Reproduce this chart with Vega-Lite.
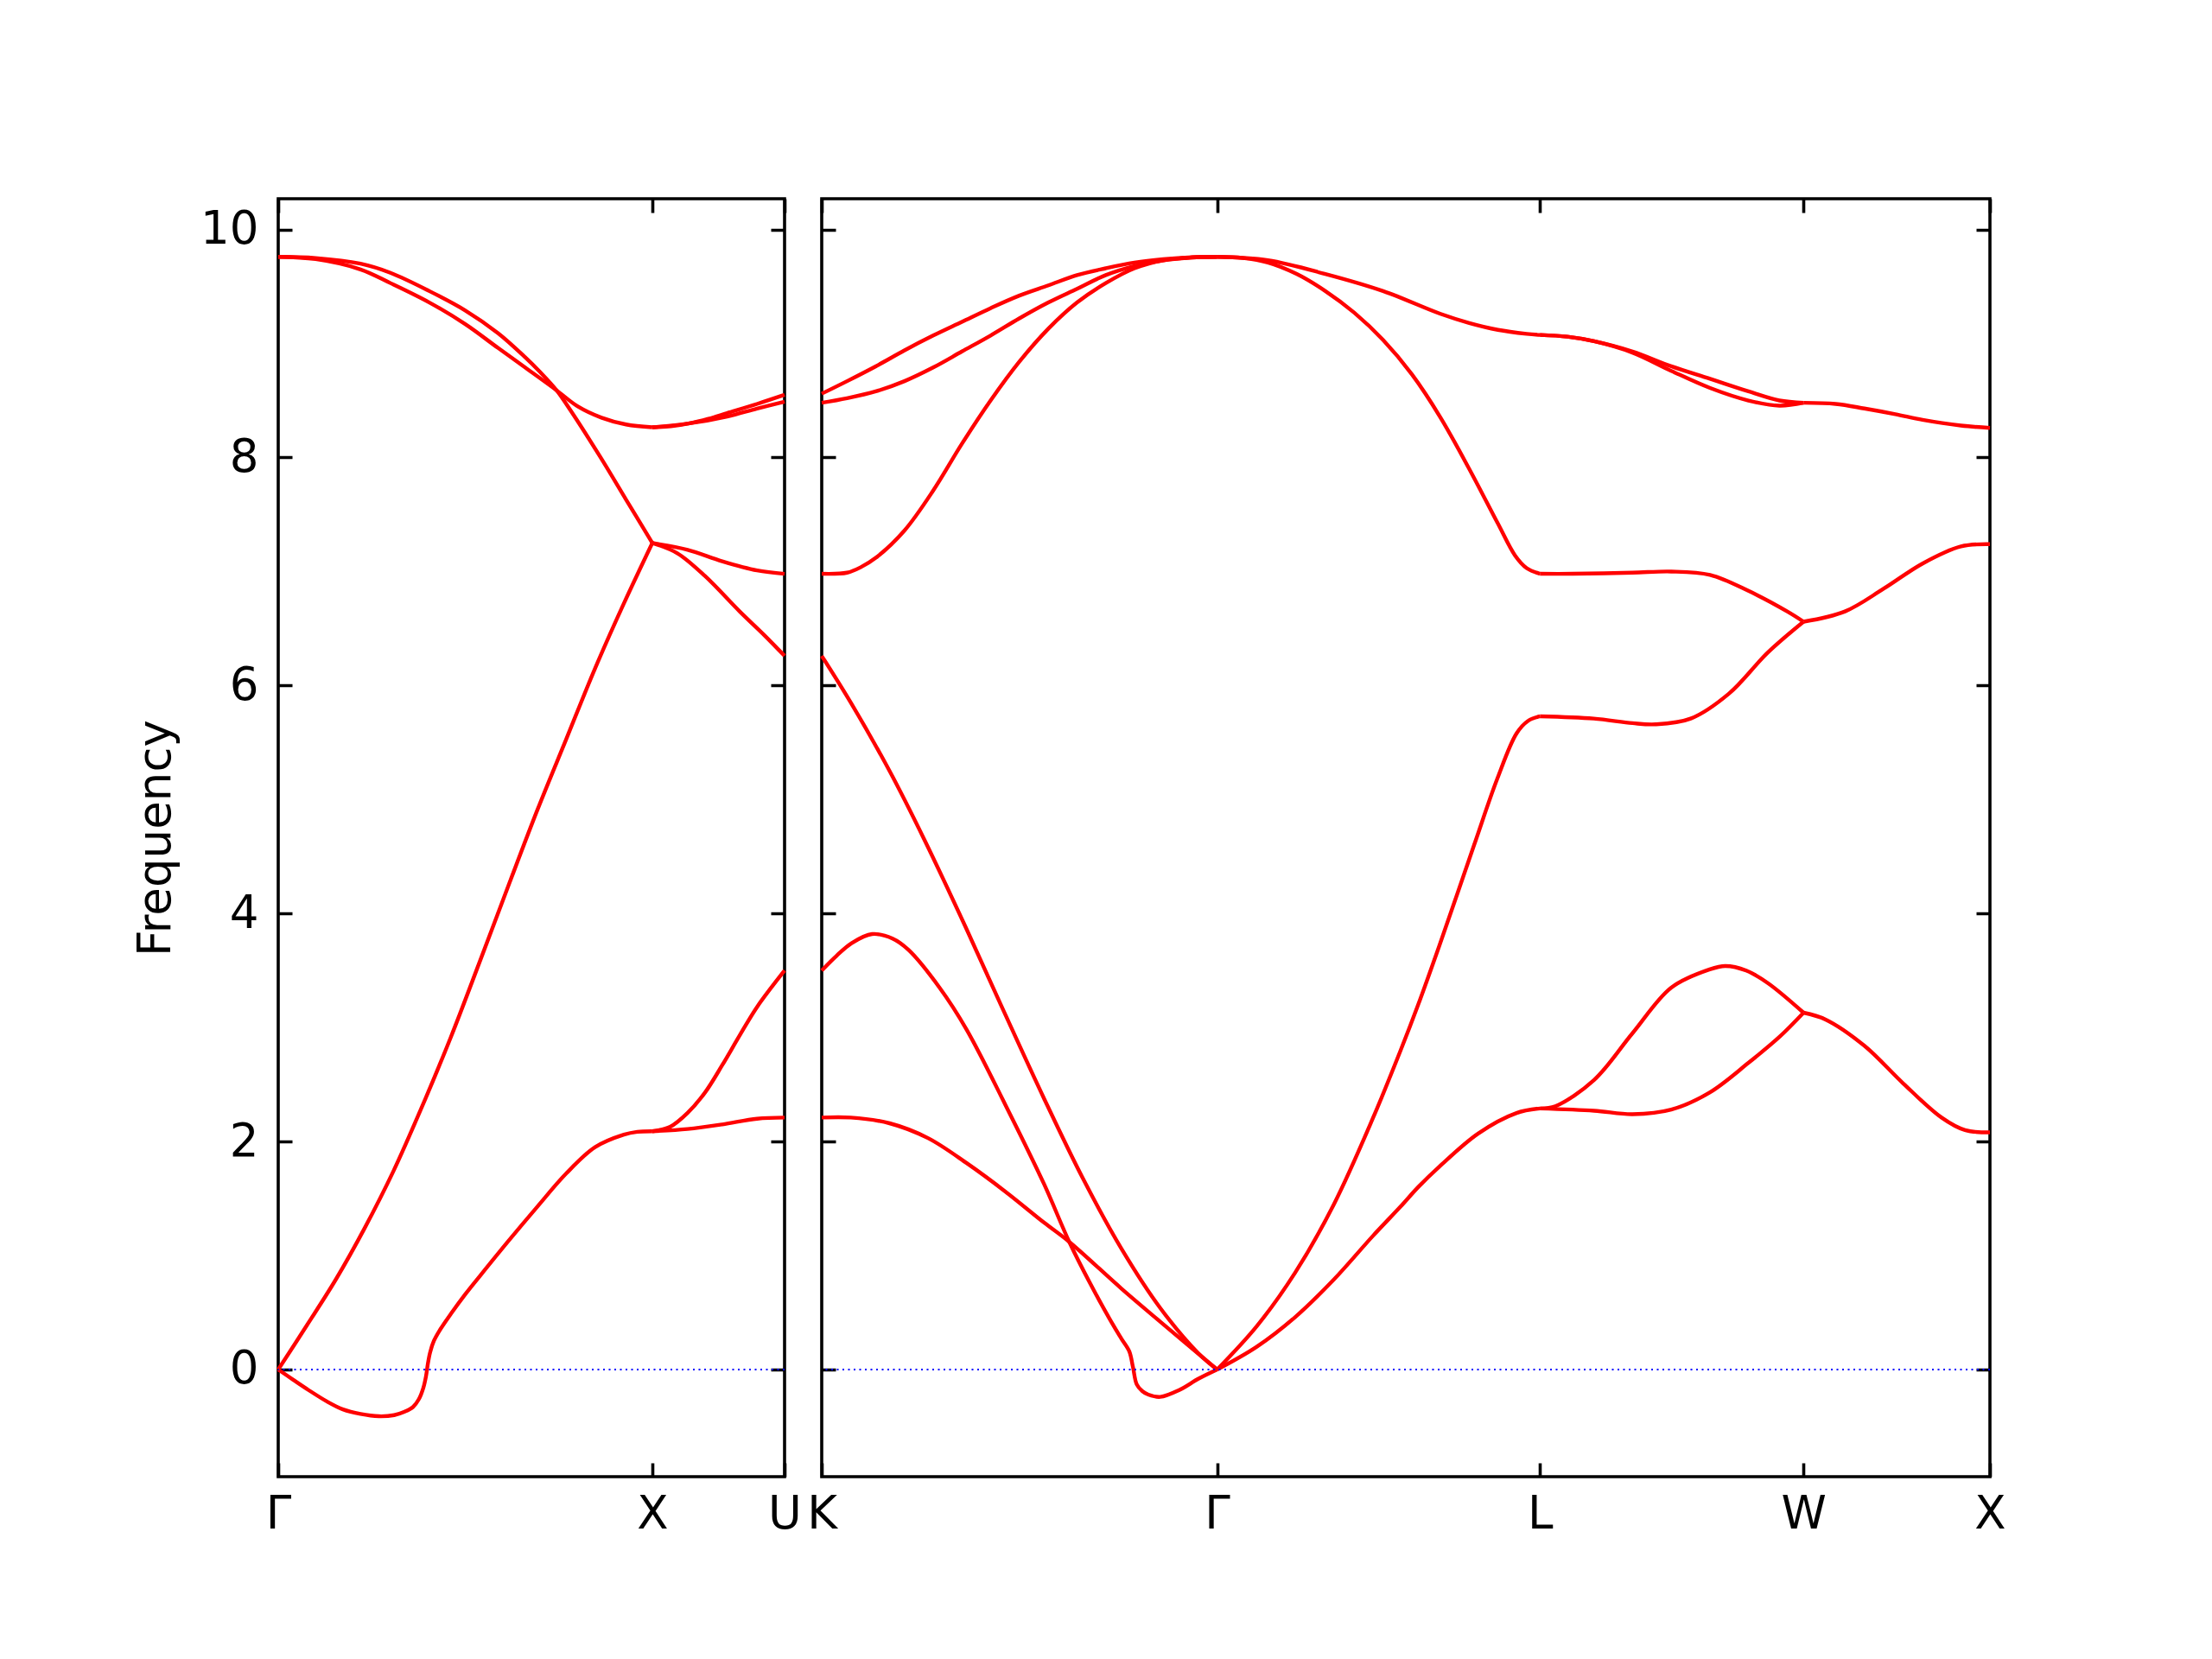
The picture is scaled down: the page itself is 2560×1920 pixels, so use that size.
{
  "$schema": "https://vega.github.io/schema/vega-lite/v6.json",
  "background": "white",
  "padding": {"left": 152, "top": 228, "right": 0, "bottom": 0},
  "config": {
    "view": {"stroke": "black", "strokeWidth": 3.6},
    "font": "DejaVu Sans",
    "axis": {
      "labelFont": "DejaVu Sans", "labelFontSize": 53, "labelColor": "black",
      "titleFont": "DejaVu Sans", "titleFontSize": 53, "titleFontWeight": "normal", "titleColor": "black",
      "domain": false, "ticks": false, "grid": true, "gridColor": "black", "gridWidth": 3.6, "gridOpacity": 1,
      "labelFlush": false, "labelOverlap": false
    }
  },
  "bounds": "flush",
  "spacing": 43,
  "hconcat": [
    {
      "width": 586, "height": 1479,
      "layer": [
        {
          "data": {"name": "left"},
          "mark": {"type": "line", "color": "#ff0000", "strokeWidth": 4.4, "interpolate": "catmull-rom"},
          "encoding": {
            "x": {"field": "k", "type": "quantitative", "scale": {"domain": [0, 1.3536], "nice": false, "zero": false},
                  "axis": {"values": [0, 1, 1.3536], "labelExpr": "datum.value < 0.5 ? 'Γ' : datum.value < 1.2 ? 'X' : 'U'", "title": null, "gridDash": [16, 1447, 16, 0], "labelPadding": 17}},
            "y": {"field": "f", "type": "quantitative", "scale": {"domain": [-0.94, 10.27], "nice": false, "zero": false},
                  "axis": {"values": [0, 2, 4, 6, 8, 10], "format": "d", "title": "Frequency", "gridDash": [16, 554, 16, 0], "labelPadding": 23, "titlePadding": 24}},
            "detail": {"field": "b", "type": "nominal"}
          }
        },
        {
          "data": {"values": [{"z": 0}]},
          "mark": {"type": "rule", "color": "#0000ff", "strokeWidth": 2, "strokeDash": [2, 4.5]},
          "encoding": {"y": {"field": "z", "type": "quantitative"}}
        }
      ]
    },
    {
      "width": 1352, "height": 1479,
      "layer": [
        {
          "data": {"name": "right"},
          "mark": {"type": "line", "color": "#ff0000", "strokeWidth": 4.4, "interpolate": "catmull-rom"},
          "encoding": {
            "x": {"field": "k", "type": "quantitative", "scale": {"domain": [0, 3.1338], "nice": false, "zero": false},
                  "axis": {"values": [0, 1.0607, 1.9267, 2.6338, 3.1338], "labelExpr": "datum.value < 0.5 ? 'K' : datum.value < 1.5 ? 'Γ' : datum.value < 2.3 ? 'L' : datum.value < 2.9 ? 'W' : 'X'", "title": null, "gridDash": [16, 1447, 16, 0], "labelPadding": 17}},
            "y": {"field": "f", "type": "quantitative", "scale": {"domain": [-0.94, 10.27], "nice": false, "zero": false},
                  "axis": {"values": [0, 2, 4, 6, 8, 10], "title": null, "labels": false, "gridDash": [16, 1320, 16, 0]}},
            "detail": {"field": "b", "type": "nominal"}
          }
        },
        {
          "data": {"values": [{"z": 0}]},
          "mark": {"type": "rule", "color": "#0000ff", "strokeWidth": 2, "strokeDash": [2, 4.5]},
          "encoding": {"y": {"field": "z", "type": "quantitative"}}
        }
      ]
    }
  ],
  "datasets": {
    "left": [
      {"b":"A1","k":0,"f":9.76},{"b":"A1","k":0.1,"f":9.75},{"b":"A1","k":0.22,"f":9.70},{"b":"A1","k":0.3,"f":9.62},{"b":"A1","k":0.404,"f":9.46},{"b":"A1","k":0.5,"f":9.29},{"b":"A1","k":0.588,"f":9.09},{"b":"A1","k":0.66,"f":8.88},{"b":"A1","k":0.70,"f":8.75},{"b":"A1","k":0.744,"f":8.59},{"b":"A1","k":0.78,"f":8.42},{"b":"A1","k":0.86,"f":8.01},{"b":"A1","k":0.93,"f":7.63},{"b":"A1","k":1.0,"f":7.25},
      {"b":"A2","k":1.0,"f":7.25},{"b":"A2","k":1.0945,"f":7.19},{"b":"A2","k":1.187,"f":7.09},{"b":"A2","k":1.28,"f":7.01},{"b":"A2","k":1.3536,"f":6.98},
      {"b":"B1","k":0,"f":9.76},{"b":"B1","k":0.1,"f":9.74},{"b":"B1","k":0.22,"f":9.65},{"b":"B1","k":0.3,"f":9.53},{"b":"B1","k":0.404,"f":9.36},{"b":"B1","k":0.5,"f":9.17},{"b":"B1","k":0.588,"f":8.96},{"b":"B1","k":0.66,"f":8.79},{"b":"B1","k":0.744,"f":8.59},{"b":"B1","k":0.8,"f":8.45},{"b":"B1","k":0.864,"f":8.35},{"b":"B1","k":0.93,"f":8.29},{"b":"B1","k":1.0,"f":8.265},
      {"b":"B2","k":1.0,"f":8.265},{"b":"B2","k":1.05,"f":8.275},{"b":"B2","k":1.1,"f":8.30},{"b":"B2","k":1.15,"f":8.34},{"b":"B2","k":1.2,"f":8.39},{"b":"B2","k":1.28,"f":8.47},{"b":"B2","k":1.3536,"f":8.55},
      {"b":"B3","k":1.0,"f":8.265},{"b":"B3","k":1.1,"f":8.30},{"b":"B3","k":1.2,"f":8.36},{"b":"B3","k":1.28,"f":8.43},{"b":"B3","k":1.3536,"f":8.49},
      {"b":"C1","k":0,"f":0},{"b":"C1","k":0.077,"f":0.39},{"b":"C1","k":0.154,"f":0.79},{"b":"C1","k":0.231,"f":1.24},{"b":"C1","k":0.308,"f":1.74},{"b":"C1","k":0.385,"f":2.31},{"b":"C1","k":0.462,"f":2.92},{"b":"C1","k":0.539,"f":3.58},{"b":"C1","k":0.616,"f":4.25},{"b":"C1","k":0.693,"f":4.91},{"b":"C1","k":0.77,"f":5.53},{"b":"C1","k":0.847,"f":6.15},{"b":"C1","k":0.924,"f":6.72},{"b":"C1","k":1.0,"f":7.25},
      {"b":"C2","k":1.0,"f":7.25},{"b":"C2","k":1.067,"f":7.16},{"b":"C2","k":1.141,"f":6.96},{"b":"C2","k":1.2335,"f":6.65},{"b":"C2","k":1.3,"f":6.44},{"b":"C2","k":1.3536,"f":6.26},
      {"b":"D1","k":0,"f":0},{"b":"D1","k":0.04,"f":-0.09},{"b":"D1","k":0.081,"f":-0.18},{"b":"D1","k":0.13,"f":-0.28},{"b":"D1","k":0.173,"f":-0.35},{"b":"D1","k":0.22,"f":-0.39},{"b":"D1","k":0.269,"f":-0.41},{"b":"D1","k":0.31,"f":-0.40},{"b":"D1","k":0.338,"f":-0.37},{"b":"D1","k":0.36,"f":-0.33},{"b":"D1","k":0.376,"f":-0.26},{"b":"D1","k":0.388,"f":-0.16},{"b":"D1","k":0.395,"f":-0.06},{"b":"D1","k":0.4,"f":0.05},{"b":"D1","k":0.406,"f":0.15},{"b":"D1","k":0.416,"f":0.25},{"b":"D1","k":0.431,"f":0.34},{"b":"D1","k":0.462,"f":0.49},{"b":"D1","k":0.5,"f":0.66},{"b":"D1","k":0.539,"f":0.82},{"b":"D1","k":0.616,"f":1.13},{"b":"D1","k":0.693,"f":1.43},{"b":"D1","k":0.77,"f":1.72},{"b":"D1","k":0.847,"f":1.95},{"b":"D1","k":0.924,"f":2.06},{"b":"D1","k":0.96,"f":2.085},{"b":"D1","k":1.0,"f":2.09},
      {"b":"D2","k":1.0,"f":2.09},{"b":"D2","k":1.048,"f":2.13},{"b":"D2","k":1.094,"f":2.25},{"b":"D2","k":1.141,"f":2.43},{"b":"D2","k":1.187,"f":2.67},{"b":"D2","k":1.2335,"f":2.93},{"b":"D2","k":1.28,"f":3.18},{"b":"D2","k":1.3536,"f":3.50},
      {"b":"D3","k":1.0,"f":2.09},{"b":"D3","k":1.094,"f":2.11},{"b":"D3","k":1.187,"f":2.15},{"b":"D3","k":1.28,"f":2.20},{"b":"D3","k":1.3536,"f":2.21}
    ],
    "right": [
      {"b":"R1","k":0,"f":8.56},{"b":"R1","k":0.068,"f":8.67},{"b":"R1","k":0.145,"f":8.80},{"b":"R1","k":0.222,"f":8.94},{"b":"R1","k":0.299,"f":9.07},{"b":"R1","k":0.376,"f":9.19},{"b":"R1","k":0.453,"f":9.31},{"b":"R1","k":0.53,"f":9.42},{"b":"R1","k":0.608,"f":9.51},{"b":"R1","k":0.685,"f":9.60},{"b":"R1","k":0.762,"f":9.66},{"b":"R1","k":0.839,"f":9.71},{"b":"R1","k":0.916,"f":9.74},{"b":"R1","k":0.993,"f":9.757},{"b":"R1","k":1.0607,"f":9.76},
      {"b":"R2","k":0,"f":8.48},{"b":"R2","k":0.068,"f":8.52},{"b":"R2","k":0.145,"f":8.58},{"b":"R2","k":0.222,"f":8.67},{"b":"R2","k":0.299,"f":8.79},{"b":"R2","k":0.376,"f":8.93},{"b":"R2","k":0.453,"f":9.07},{"b":"R2","k":0.53,"f":9.22},{"b":"R2","k":0.608,"f":9.36},{"b":"R2","k":0.685,"f":9.48},{"b":"R2","k":0.762,"f":9.60},{"b":"R2","k":0.839,"f":9.68},{"b":"R2","k":0.916,"f":9.73},{"b":"R2","k":0.993,"f":9.755},{"b":"R2","k":1.0607,"f":9.76},
      {"b":"R3","k":0,"f":6.98},{"b":"R3","k":0.068,"f":6.99},{"b":"R3","k":0.106,"f":7.04},{"b":"R3","k":0.145,"f":7.12},{"b":"R3","k":0.222,"f":7.36},{"b":"R3","k":0.299,"f":7.71},{"b":"R3","k":0.376,"f":8.12},{"b":"R3","k":0.453,"f":8.50},{"b":"R3","k":0.53,"f":8.84},{"b":"R3","k":0.608,"f":9.13},{"b":"R3","k":0.685,"f":9.36},{"b":"R3","k":0.762,"f":9.53},{"b":"R3","k":0.839,"f":9.66},{"b":"R3","k":0.916,"f":9.73},{"b":"R3","k":0.993,"f":9.755},{"b":"R3","k":1.0607,"f":9.76},
      {"b":"R4","k":0,"f":6.26},{"b":"R4","k":0.078,"f":5.85},{"b":"R4","k":0.182,"f":5.25},{"b":"R4","k":0.275,"f":4.65},{"b":"R4","k":0.389,"f":3.86},{"b":"R4","k":0.493,"f":3.11},{"b":"R4","k":0.596,"f":2.38},{"b":"R4","k":0.7,"f":1.68},{"b":"R4","k":0.804,"f":1.06},{"b":"R4","k":0.908,"f":0.54},{"b":"R4","k":1.011,"f":0.14},{"b":"R4","k":1.0607,"f":0},
      {"b":"R5","k":0,"f":3.50},{"b":"R5","k":0.04,"f":3.63},{"b":"R5","k":0.08,"f":3.74},{"b":"R5","k":0.135,"f":3.82},{"b":"R5","k":0.19,"f":3.78},{"b":"R5","k":0.233,"f":3.68},{"b":"R5","k":0.316,"f":3.35},{"b":"R5","k":0.389,"f":2.98},{"b":"R5","k":0.493,"f":2.32},{"b":"R5","k":0.596,"f":1.63},{"b":"R5","k":0.664,"f":1.12},{"b":"R5","k":0.721,"f":0.75},{"b":"R5","k":0.78,"f":0.40},{"b":"R5","k":0.804,"f":0.27},{"b":"R5","k":0.825,"f":0.16},{"b":"R5","k":0.835,"f":0.02},{"b":"R5","k":0.845,"f":-0.13},{"b":"R5","k":0.86,"f":-0.19},{"b":"R5","k":0.876,"f":-0.22},{"b":"R5","k":0.908,"f":-0.24},{"b":"R5","k":0.959,"f":-0.18},{"b":"R5","k":1.011,"f":-0.08},{"b":"R5","k":1.0607,"f":0},
      {"b":"R6","k":0,"f":2.21},{"b":"R6","k":0.078,"f":2.21},{"b":"R6","k":0.182,"f":2.16},{"b":"R6","k":0.285,"f":2.03},{"b":"R6","k":0.389,"f":1.81},{"b":"R6","k":0.493,"f":1.56},{"b":"R6","k":0.596,"f":1.29},{"b":"R6","k":0.664,"f":1.12},{"b":"R6","k":0.804,"f":0.71},{"b":"R6","k":0.908,"f":0.42},{"b":"R6","k":1.0607,"f":0},
      {"b":"R7","k":1.0607,"f":9.76},{"b":"R7","k":1.197,"f":9.73},{"b":"R7","k":1.351,"f":9.61},{"b":"R7","k":1.506,"f":9.46},{"b":"R7","k":1.66,"f":9.26},{"b":"R7","k":1.737,"f":9.18},{"b":"R7","k":1.814,"f":9.12},{"b":"R7","k":1.891,"f":9.085},{"b":"R7","k":1.9267,"f":9.075},
      {"b":"R7b","k":1.9267,"f":9.075},{"b":"R7b","k":2.0,"f":9.06},{"b":"R7b","k":2.072,"f":9.02},{"b":"R7b","k":2.175,"f":8.93},{"b":"R7b","k":2.279,"f":8.80},{"b":"R7b","k":2.383,"f":8.69},{"b":"R7b","k":2.486,"f":8.58},{"b":"R7b","k":2.569,"f":8.50},{"b":"R7b","k":2.6338,"f":8.48},
      {"b":"R7c","k":1.9267,"f":9.075},{"b":"R7c","k":2.0,"f":9.06},{"b":"R7c","k":2.072,"f":9.02},{"b":"R7c","k":2.175,"f":8.92},{"b":"R7c","k":2.279,"f":8.76},{"b":"R7c","k":2.383,"f":8.61},{"b":"R7c","k":2.486,"f":8.50},{"b":"R7c","k":2.569,"f":8.455},{"b":"R7c","k":2.6338,"f":8.48},
      {"b":"R7d","k":2.6338,"f":8.48},{"b":"R7d","k":2.72,"f":8.47},{"b":"R7d","k":2.797,"f":8.43},{"b":"R7d","k":2.88,"f":8.38},{"b":"R7d","k":2.953,"f":8.33},{"b":"R7d","k":3.056,"f":8.28},{"b":"R7d","k":3.1338,"f":8.26},
      {"b":"R8","k":1.0607,"f":9.76},{"b":"R8","k":1.13,"f":9.75},{"b":"R8","k":1.197,"f":9.71},{"b":"R8","k":1.274,"f":9.61},{"b":"R8","k":1.351,"f":9.46},{"b":"R8","k":1.4286,"f":9.27},{"b":"R8","k":1.506,"f":9.03},{"b":"R8","k":1.583,"f":8.73},{"b":"R8","k":1.66,"f":8.35},{"b":"R8","k":1.737,"f":7.90},{"b":"R8","k":1.814,"f":7.42},{"b":"R8","k":1.86,"f":7.14},{"b":"R8","k":1.891,"f":7.03},{"b":"R8","k":1.9267,"f":6.98},
      {"b":"R8b","k":1.9267,"f":6.98},{"b":"R8b","k":2.014,"f":6.98},{"b":"R8b","k":2.175,"f":6.99},{"b":"R8b","k":2.279,"f":7.0},{"b":"R8b","k":2.383,"f":6.97},{"b":"R8b","k":2.486,"f":6.83},{"b":"R8b","k":2.59,"f":6.65},{"b":"R8b","k":2.6338,"f":6.56},
      {"b":"R8c","k":2.6338,"f":6.56},{"b":"R8c","k":2.745,"f":6.65},{"b":"R8c","k":2.849,"f":6.85},{"b":"R8c","k":2.953,"f":7.07},{"b":"R8c","k":3.056,"f":7.22},{"b":"R8c","k":3.1338,"f":7.24},
      {"b":"R9","k":1.0607,"f":0},{"b":"R9","k":1.167,"f":0.38},{"b":"R9","k":1.27,"f":0.85},{"b":"R9","k":1.374,"f":1.45},{"b":"R9","k":1.478,"f":2.2},{"b":"R9","k":1.553,"f":2.8},{"b":"R9","k":1.6,"f":3.2},{"b":"R9","k":1.657,"f":3.72},{"b":"R9","k":1.75,"f":4.6},{"b":"R9","k":1.812,"f":5.18},{"b":"R9","k":1.864,"f":5.58},{"b":"R9","k":1.895,"f":5.69},{"b":"R9","k":1.9267,"f":5.73},
      {"b":"R9b","k":1.9267,"f":5.73},{"b":"R9b","k":2.071,"f":5.71},{"b":"R9b","k":2.175,"f":5.67},{"b":"R9b","k":2.237,"f":5.66},{"b":"R9b","k":2.331,"f":5.71},{"b":"R9b","k":2.434,"f":5.93},{"b":"R9b","k":2.538,"f":6.29},{"b":"R9b","k":2.6338,"f":6.56},
      {"b":"R10","k":1.0607,"f":0},{"b":"R10","k":1.167,"f":0.20},{"b":"R10","k":1.27,"f":0.46},{"b":"R10","k":1.374,"f":0.79},{"b":"R10","k":1.478,"f":1.17},{"b":"R10","k":1.553,"f":1.43},{"b":"R10","k":1.6,"f":1.6},{"b":"R10","k":1.657,"f":1.78},{"b":"R10","k":1.761,"f":2.07},{"b":"R10","k":1.864,"f":2.25},{"b":"R10","k":1.9267,"f":2.29},
      {"b":"R10b","k":1.9267,"f":2.29},{"b":"R10b","k":1.968,"f":2.31},{"b":"R10b","k":2.072,"f":2.54},{"b":"R10b","k":2.175,"f":2.95},{"b":"R10b","k":2.279,"f":3.35},{"b":"R10b","k":2.382,"f":3.51},{"b":"R10b","k":2.424,"f":3.54},{"b":"R10b","k":2.48,"f":3.50},{"b":"R10b","k":2.538,"f":3.39},{"b":"R10b","k":2.6338,"f":3.13},
      {"b":"R10c","k":1.9267,"f":2.29},{"b":"R10c","k":2.072,"f":2.27},{"b":"R10c","k":2.175,"f":2.24},{"b":"R10c","k":2.279,"f":2.28},{"b":"R10c","k":2.382,"f":2.43},{"b":"R10c","k":2.486,"f":2.69},{"b":"R10c","k":2.57,"f":2.92},{"b":"R10c","k":2.6338,"f":3.13},
      {"b":"R10d","k":2.6338,"f":3.13},{"b":"R10d","k":2.693,"f":3.07},{"b":"R10d","k":2.797,"f":2.84},{"b":"R10d","k":2.901,"f":2.51},{"b":"R10d","k":3.004,"f":2.21},{"b":"R10d","k":3.067,"f":2.10},{"b":"R10d","k":3.1338,"f":2.08}
    ]
  }
}
